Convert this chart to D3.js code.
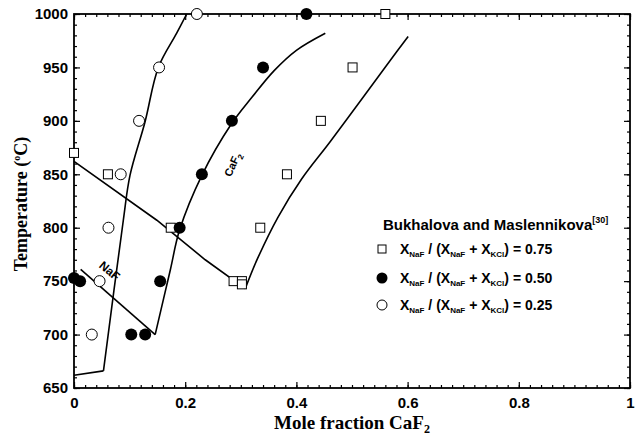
<!DOCTYPE html>
<html>
<head>
<meta charset="utf-8">
<script src="https://cdn.jsdelivr.net/npm/d3@7"></script>
<style>
  body { margin: 0; background: #fff; }
  text { fill: #000; }
</style>
</head>
<body>
<script>
// ---- data ----
const xTicks = [0, 0.2, 0.4, 0.6, 0.8, 1];
const xTickLabels = ["0", "0.2", "0.4", "0.6", "0.8", "1"];
const yTicks = [650, 700, 750, 800, 850, 900, 950, 1000];

// X_NaF/(X_NaF+X_KCl) = 0.75 (open squares)
const sqX = [0, 0.061, 0.174, 0.287, 0.302, 0.302, 0.335, 0.383, 0.444, 0.501, 0.56];
const sqT = [870, 850, 800, 750, 750, 747, 800, 850, 900, 950, 1000];

// = 0.50 (filled circles)
const fcX = [0, 0.011, 0.103, 0.128, 0.155, 0.19, 0.23, 0.284, 0.34, 0.418];
const fcT = [753, 750, 700, 700, 750, 800, 850, 900, 950, 1000];

// = 0.25 (open circles)
const ocX = [0.032, 0.046, 0.062, 0.084, 0.117, 0.153, 0.221];
const ocT = [700, 750, 800, 850, 900, 950, 1000];

// calculated liquidus lines (straight NaF branches, curved CaF2 branches)
const sqNaF = [[0, 862], [0.149, 807], [0.236, 770], [0.308, 743]];
const sqCaF2 = [[0.308, 743], [0.33, 771], [0.367, 810], [0.41, 846], [0.46, 880],
                [0.52, 922], [0.568, 956], [0.601, 979]];
const fcNaF = [[0.012, 761], [0.146, 700]];
const fcCaF2 = [[0.146, 700], [0.173, 760], [0.19, 798], [0.23, 849], [0.283, 897],
                [0.32, 922], [0.36, 947], [0.40, 966], [0.452, 982]];
const ocLow = [[0, 662], [0.053, 666]];
const ocCaF2 = [[0.053, 666], [0.0887, 807], [0.1007, 849], [0.1277, 899],
                [0.1517, 950], [0.1847, 982], [0.2027, 1000]];

const legendValues = ["0.75", "0.50", "0.25"];

// ---- layout ----
const w = 636;
const h = 439;
const pLeft = 74, pRight = 630, pTop = 14, pBottom = 388;
const sans = "'Liberation Sans', Arial, sans-serif";
const serif = "'Liberation Serif', 'Times New Roman', serif";

const svg = d3
  .select("body")
  .append("svg")
  .attr("width", w)
  .attr("height", h);

const x = d3.scaleLinear().domain([0, 1]).range([pLeft, pRight]);
const y = d3.scaleLinear().domain([650, 1000]).range([pBottom, pTop]);

const xMinor = d3.range(0, 1.0001, 0.02).map(d => +d.toFixed(2));
const yMinor = d3.range(650, 1001, 10);

function styleAxis(g) {
  g.select(".domain").remove();
  g.selectAll("line").attr("stroke", "#000").attr("stroke-width", 1.2);
  g.selectAll("text")
    .style("font-family", sans)
    .style("font-size", "15px")
    .style("font-weight", "bold");
}

// minor ticks on all four sides
svg.append("g").attr("transform", "translate(0," + pBottom + ")")
  .call(d3.axisBottom(x).tickValues(xMinor).tickSize(-3).tickFormat(""))
  .call(styleAxis);
svg.append("g").attr("transform", "translate(0," + pTop + ")")
  .call(d3.axisTop(x).tickValues(xMinor).tickSize(-3).tickFormat(""))
  .call(styleAxis);
svg.append("g").attr("transform", "translate(" + pLeft + ",0)")
  .call(d3.axisLeft(y).tickValues(yMinor).tickSize(-3).tickFormat(""))
  .call(styleAxis);
svg.append("g").attr("transform", "translate(" + pRight + ",0)")
  .call(d3.axisRight(y).tickValues(yMinor).tickSize(-3).tickFormat(""))
  .call(styleAxis);

// major ticks + labels
svg.append("g").attr("transform", "translate(0," + pBottom + ")")
  .call(d3.axisBottom(x).tickValues(xTicks).tickSize(-6).tickPadding(9)
    .tickFormat((d, i) => xTickLabels[i]))
  .call(styleAxis);
svg.append("g").attr("transform", "translate(0," + pTop + ")")
  .call(d3.axisTop(x).tickValues(xTicks).tickSize(-6).tickFormat(""))
  .call(styleAxis);
svg.append("g").attr("transform", "translate(" + pLeft + ",0)")
  .call(d3.axisLeft(y).tickValues(yTicks).tickSize(-6).tickPadding(6)
    .tickFormat(d3.format("d")))
  .call(styleAxis);
svg.append("g").attr("transform", "translate(" + pRight + ",0)")
  .call(d3.axisRight(y).tickValues(yTicks).tickSize(-6).tickFormat(""))
  .call(styleAxis);

// frame
svg.append("rect")
  .attr("x", pLeft).attr("y", pTop)
  .attr("width", pRight - pLeft).attr("height", pBottom - pTop)
  .attr("fill", "none").attr("stroke", "#000").attr("stroke-width", 1.8);

// axis titles
svg.append("text")
  .attr("transform", "translate(" + (pLeft + pRight) / 2 + "," + 429 + ")")
  .style("text-anchor", "middle")
  .style("font-family", serif)
  .style("font-size", "19px")
  .style("font-weight", "bold")
  .call(t => {
    t.append("tspan").text("Mole fraction CaF");
    t.append("tspan").attr("dy", 4).style("font-size", "12px").text("2");
  });

svg.append("text")
  .attr("transform", "translate(27,204) rotate(-90)")
  .style("text-anchor", "middle")
  .style("font-family", serif)
  .style("font-size", "18px")
  .style("font-weight", "bold")
  .call(t => {
    t.append("tspan").text("Temperature (");
    t.append("tspan").attr("dy", -7).style("font-size", "10px").text("o");
    t.append("tspan").attr("dy", 7).text("C)");
  });

// lines
const line = d3.line().x(d => x(d[0])).y(d => y(d[1]));
const curve = d3.line().x(d => x(d[0])).y(d => y(d[1])).curve(d3.curveCatmullRom.alpha(0.5));

[sqNaF, fcNaF, ocLow].forEach(pts => {
  svg.append("path").attr("d", line(pts))
    .attr("fill", "none").attr("stroke", "#000").attr("stroke-width", 1.6);
});
[sqCaF2, fcCaF2, ocCaF2].forEach(pts => {
  svg.append("path").attr("d", curve(pts))
    .attr("fill", "none").attr("stroke", "#000").attr("stroke-width", 1.6);
});

// points
svg.selectAll(".sq")
  .data(sqX)
  .enter()
  .append("rect")
  .attr("class", "sq")
  .attr("x", d => x(d) - 4.5)
  .attr("y", (d, i) => y(sqT[i]) - 4.5)
  .attr("width", 9)
  .attr("height", 9)
  .attr("fill", "#fff")
  .attr("stroke", "#000")
  .attr("stroke-width", 1);

svg.selectAll(".fc")
  .data(fcX)
  .enter()
  .append("circle")
  .attr("class", "fc")
  .attr("cx", d => x(d))
  .attr("cy", (d, i) => y(fcT[i]))
  .attr("r", 6)
  .attr("fill", "#000");

svg.selectAll(".oc")
  .data(ocX)
  .enter()
  .append("circle")
  .attr("class", "oc")
  .attr("cx", d => x(d))
  .attr("cy", (d, i) => y(ocT[i]))
  .attr("r", 5.5)
  .attr("fill", "#fff")
  .attr("stroke", "#000")
  .attr("stroke-width", 1);

// phase labels
svg.append("text")
  .attr("transform", "translate(107,274) rotate(40)")
  .style("text-anchor", "middle")
  .style("font-family", sans)
  .style("font-size", "12px")
  .style("font-weight", "bold")
  .text("NaF");

svg.append("text")
  .attr("transform", "translate(236,166) rotate(-65)")
  .style("text-anchor", "middle")
  .style("font-family", sans)
  .style("font-size", "11px")
  .style("font-weight", "bold")
  .call(t => {
    t.append("tspan").text("CaF");
    t.append("tspan").attr("dy", 3).style("font-size", "8px").text("2");
  });

// legend
const legend = svg.append("g").attr("id", "legend");

legend.append("text")
  .attr("x", 383)
  .attr("y", 230)
  .style("font-family", sans)
  .style("font-size", "15px")
  .style("font-weight", "bold")
  .call(t => {
    t.append("tspan").text("Bukhalova and Maslennikova");
    t.append("tspan").attr("dy", -7).style("font-size", "9px").text("[30]");
  });

const legY = [249, 278, 305];

legend.append("rect")
  .attr("x", 382 - 4).attr("y", legY[0] - 4)
  .attr("width", 8).attr("height", 8)
  .attr("fill", "#fff").attr("stroke", "#000").attr("stroke-width", 1);
legend.append("circle")
  .attr("cx", 382).attr("cy", legY[1]).attr("r", 5.5).attr("fill", "#000");
legend.append("circle")
  .attr("cx", 382).attr("cy", legY[2]).attr("r", 5)
  .attr("fill", "#fff").attr("stroke", "#000").attr("stroke-width", 1);

legendValues.forEach((v, i) => {
  const t = legend.append("text")
    .attr("x", 400)
    .attr("y", legY[i] + 5)
    .style("font-family", sans)
    .style("font-size", "14px")
    .style("font-weight", "bold");
  const sub = s => t.append("tspan").attr("dy", 3).style("font-size", "8px").text(s);
  const up = s => t.append("tspan").attr("dy", -3).text(s);
  t.append("tspan").text("X");
  sub("NaF");
  up(" / (X");
  sub("NaF");
  up(" + X");
  sub("KCl");
  up(") = " + v);
});
</script>
</body>
</html>
